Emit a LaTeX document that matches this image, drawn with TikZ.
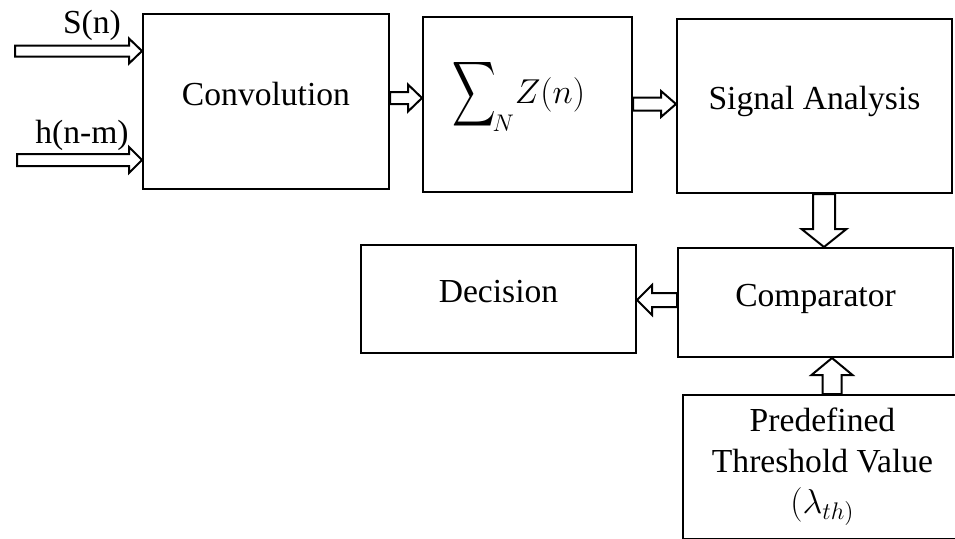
\documentclass[tikz,border=0pt]{standalone}
\usepackage{fontspec}
\setmainfont{Liberation Serif}
\usepackage{amsmath,amssymb}
\usepackage{graphicx}
\usetikzlibrary{calc}

% hollow block arrow: tail, tip, half shaft, half head, head length
\newcommand{\fatarrow}[5]{%
    \path (#1) coordinate (fa-s) (#2) coordinate (fa-t);
    \coordinate (fa-h) at ($(fa-t)!#5!(fa-s)$);
    \draw[fat] ($(fa-s)!#3!90:(fa-t)$) -- ($(fa-h)!#3!-90:(fa-s)$)
        -- ($(fa-h)!#4!-90:(fa-s)$) -- (fa-t) -- ($(fa-h)!#4!90:(fa-s)$)
        -- ($(fa-h)!#3!90:(fa-s)$) -- ($(fa-s)!#3!-90:(fa-t)$) -- cycle;
}

\begin{document}
\begin{tikzpicture}[x=0.5pt, y=-0.5pt,
    every node/.style={font=\fontsize{16.8}{20.5}\selectfont},
    box/.style={draw, line width=1pt, inner sep=0pt, text height=11pt, text depth=7.5pt},
    fat/.style={draw, line width=1pt, fill=white, line join=miter}]
    \useasboundingbox (0,0) rectangle (955,538);

    \node[box, minimum width=123pt, minimum height=87.5pt] (conv) at (266,101.5) {Convolution};
    \node[box, minimum width=104.5pt, minimum height=87.5pt, text height=9pt, text depth=10.5pt] (sum) at (527.5,104.5)
        {$\mathop{\vcenter{\hbox{\scalebox{0.9}[1.35]{$\displaystyle\sum$}}}}\nolimits_{\!N}\!Z(n)$\hspace*{8.5pt}};
    \node[box, minimum width=137.5pt, minimum height=87pt] (sig) at (814.5,106) {Signal Analysis};
    \node[box, minimum width=137.5pt, minimum height=54pt] (dec) at (498.5,299) {Decision};
    \node[box, minimum width=137.5pt, minimum height=54.5pt] (comp) at (815.5,302.5) {Comparator};
    \node[box, minimum width=139.5pt, minimum height=72pt, align=center, text height=, text depth=] (thr) at (822.5,467)
        {Predefined\\Threshold Value\\$(\lambda_{th)}$};

    % inputs
    \node[anchor=base] (sn) at (92,33) {S(n)};
    \node[anchor=base] (hn) at (82,143) {h(n-m)};
    \coordinate (inS) at (15,51);
    \coordinate (inH) at (17,160);
    \fatarrow{inS}{inS -| conv.west}{2.75pt}{6.25pt}{6.5pt}
    \fatarrow{inH}{inH -| conv.west}{3pt}{6.5pt}{6.5pt}

    % chain
    \coordinate (c2s) at (conv.east |- 0,98);
    \coordinate (s2a) at (sum.east |- 0,104);
    \coordinate (a2c) at (sig.south -| 824,0);
    \coordinate (c2d) at (comp.west |- 0,300);
    \coordinate (t2c) at (thr.north -| 832,0);
    \fatarrow{c2s}{c2s -| sum.west}{3pt}{6.75pt}{7pt}
    \fatarrow{s2a}{s2a -| sig.west}{3.25pt}{6.5pt}{7.5pt}
    \fatarrow{a2c}{a2c |- comp.north}{5.5pt}{11.25pt}{9pt}
    \fatarrow{c2d}{c2d -| dec.east}{3.5pt}{7.5pt}{7.5pt}
    \fatarrow{t2c}{t2c |- comp.south}{4.75pt}{10.25pt}{8.5pt}
\end{tikzpicture}
\end{document}
